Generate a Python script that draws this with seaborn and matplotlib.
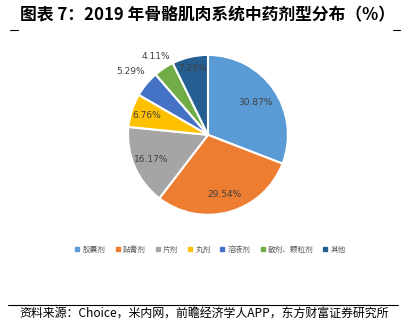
import matplotlib
matplotlib.use("Agg")
import matplotlib.pyplot as plt
import seaborn as sns
import numpy as np
from matplotlib.lines import Line2D

sns.set_theme(style="white")
plt.rcParams['font.family'] = ['Noto Sans CJK SC', 'DejaVu Sans']

categories = ["胶囊剂", "贴膏剂", "片剂", "丸剂", "溶液剂", "散剂、颗粒剂", "其他"]
values = [30.87, 29.54, 16.17, 6.76, 5.29, 4.11, 7.26]
labels = ["30.87%", "29.54%", "16.17%", "6.76%", "5.29%", "4.11%", "7.26%"]
colors = ["#5B9BD5", "#ED7D31", "#A5A5A5", "#FFC000", "#4472C4", "#70AD47", "#255E91"]
label_dist = [0.72, 0.77, 0.77, 0.80, 1.25, 1.18, 0.85]

fig = plt.figure(figsize=(4.05, 3.23), dpi=100)
ax = fig.add_axes([0.316, 0.335, 0.395, 0.495])
wedges, _ = ax.pie(values, colors=colors, startangle=90, counterclock=False,
                   wedgeprops=dict(edgecolor="white", linewidth=1.5))
ax.set_xlim(-1.0, 1.0)
ax.set_ylim(-1.0, 1.0)
ax.set_aspect("equal")
for w, lab, d in zip(wedges, labels, label_dist):
    ang = np.deg2rad((w.theta1 + w.theta2) / 2)
    ax.text(d * np.cos(ang), d * np.sin(ang), lab, ha="center", va="center",
            fontsize=6.5, color="#404040", family=["DejaVu Sans"], clip_on=False)

fig.text(0.05, 0.952, "图表 7：2019 年骨骼肌肉系统中药剂型分布（%）", fontsize=12.1,
         fontweight="bold", ha="left", va="center", color="black")
fig.add_artist(Line2D([10/405, 18/405], [1-30/323, 1-30/323], color="black", lw=0.8))
fig.add_artist(Line2D([393/405, 400/405], [1-30/323, 1-30/323], color="black", lw=0.8))

handles = [Line2D([0], [0], marker="s", color="none", markerfacecolor=c,
                  markeredgecolor=c, markersize=2.5) for c in colors]
leg = fig.legend(handles, categories, loc="center", bbox_to_anchor=(0.52, 1-250/323),
                 ncol=7, frameon=False, fontsize=5.5, handlelength=0.6,
                 handletextpad=0.4, columnspacing=1.25, labelcolor="#595959")

fig.add_artist(Line2D([8/405, 398/405], [1-305/323, 1-305/323], color="black", lw=0.8))
fig.text(19/405, 1-314/323, "资料来源：Choice，米内网，前瞻经济学人APP，东方财富证券研究所",
         fontsize=8.6, ha="left", va="center", color="black")

fig.savefig("out.png", dpi=100)
